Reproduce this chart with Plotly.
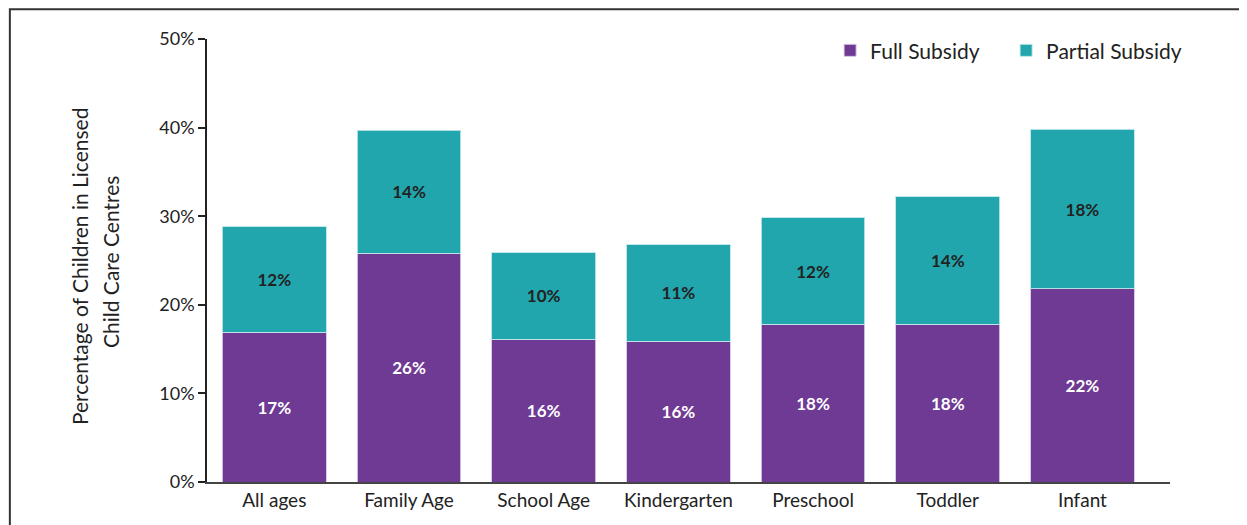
import plotly.graph_objects as go

categories = ["All ages", "Family Age", "School Age", "Kindergarten", "Preschool", "Toddler", "Infant"]
full_subsidy = [16.9, 25.8, 16.1, 15.9, 17.8, 17.8, 21.8]
partial_subsidy = [11.9, 13.9, 9.8, 10.9, 12.0, 14.4, 18.0]
y_ticks = [0, 10, 20, 30, 40, 50]
y_tick_labels = ["0%", "10%", "20%", "30%", "40%", "50%"]
y_title_lines = ["Percentage of Children in Licensed", "Child Care Centres"]

PURPLE = "#6f3a94"
TEAL = "#21a6ad"
FONT = "Lato"

# page shows the figure offset by 8px (body margin); compensate in margins
OFF = 8
PLOT_L, PLOT_R, PLOT_T, PLOT_B = 206.7 - OFF, 1170 - OFF, 39.3 - OFF, 482.3 - OFF
W, H = 1247, 525
PW, PH = PLOT_R - PLOT_L, PLOT_B - PLOT_T


def px_x(sx):
    return (sx - OFF - PLOT_L) / PW


def px_y(sy):
    return (PLOT_B - (sy - OFF)) / PH


fig = go.Figure()
fig.add_trace(go.Bar(
    x=categories, y=full_subsidy, name="Full Subsidy",
    marker=dict(color=PURPLE, line=dict(color="rgba(215,200,230,0.9)", width=1)),
    texttemplate="%{y:.0f}%", textposition="inside", insidetextanchor="middle",
    textangle=0, constraintext="none",
    textfont=dict(family=FONT, size=17, color="white", weight="bold"),
))
fig.add_trace(go.Bar(
    x=categories, y=partial_subsidy, name="Partial Subsidy",
    marker=dict(color=TEAL, line=dict(color="rgba(190,230,232,0.9)", width=1)),
    texttemplate="%{y:.0f}%", textposition="inside", insidetextanchor="middle",
    textangle=0, constraintext="none",
    textfont=dict(family=FONT, size=17, color="#222222", weight="bold"),
))

annotations = [
    dict(text=y_title_lines[0], xref="paper", yref="paper", x=px_x(79), y=px_y(266),
         xanchor="center", yanchor="middle", textangle=-90, showarrow=False,
         font=dict(family=FONT, size=21, color="#222222")),
    dict(text=y_title_lines[1], xref="paper", yref="paper", x=px_x(110), y=px_y(262),
         xanchor="center", yanchor="middle", textangle=-90, showarrow=False,
         font=dict(family=FONT, size=21, color="#222222")),
]

fig.update_layout(
    barmode="stack",
    bargap=0.23,
    width=W, height=H,
    margin=dict(l=PLOT_L, r=W - PLOT_R, t=PLOT_T, b=H - PLOT_B, autoexpand=False),
    paper_bgcolor="white", plot_bgcolor="white",
    font=dict(family=FONT, size=19, color="#222222"),
    showlegend=True,
    legend=dict(orientation="h", x=px_x(830), xanchor="left",
                y=px_y(51), yanchor="middle", entrywidth=131,
                font=dict(family=FONT, size=21, color="#222222"),
                itemwidth=30, traceorder="normal", bgcolor="rgba(0,0,0,0)"),
    xaxis=dict(range=[-0.5, 6.65], showline=True, linecolor="#444444", linewidth=1.5,
               ticks="", showgrid=False, tickfont=dict(family=FONT, size=19, color="#222222")),
    yaxis=dict(range=[0, 50], tickvals=y_ticks, ticktext=y_tick_labels,
               showline=True, linecolor="#222222", linewidth=1.5,
               ticks="outside", ticklen=7, tickcolor="#222222", tickwidth=1.5,
               showgrid=False, zeroline=False,
               tickfont=dict(family=FONT, size=18, color="#222222")),
    annotations=annotations,
    shapes=[dict(type="rect", xref="paper", yref="paper",
                 x0=px_x(9.5), x1=1.3, y0=-0.3, y1=px_y(9.5),
                 line=dict(color="#333333", width=2), fillcolor="rgba(0,0,0,0)", layer="above")],
)

fig.write_html("out.html")
